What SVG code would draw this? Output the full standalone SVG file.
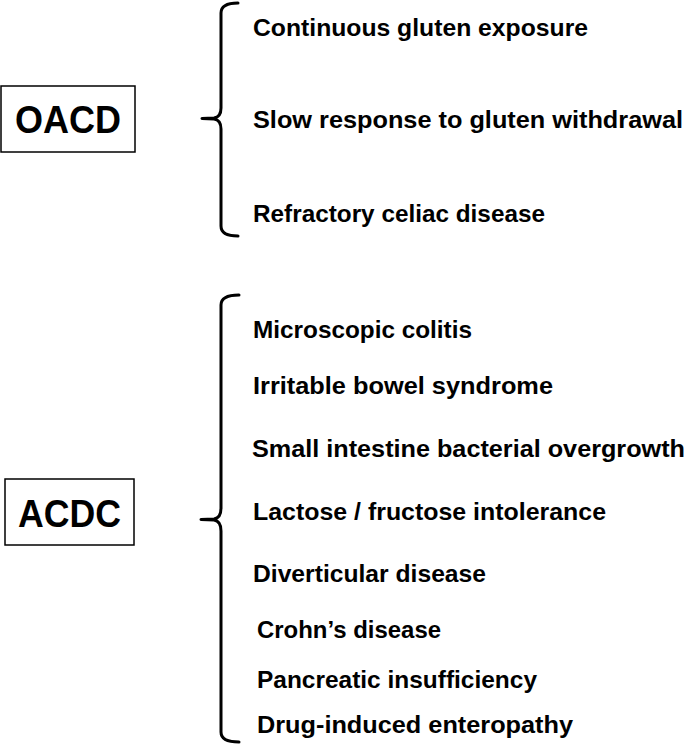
<svg xmlns="http://www.w3.org/2000/svg" width="685" height="755" viewBox="0 0 685 755">
<style>
.box{fill:#fff;stroke:#000;stroke-width:1.5}
.lbl{font-family:"Liberation Sans",Arial,sans-serif;font-weight:bold;font-size:38px;fill:#000}
.item{font-family:"Liberation Sans",Arial,sans-serif;font-weight:bold;font-size:24.5px;fill:#000}
.brace{fill:none;stroke:#000;stroke-width:3;stroke-linecap:round;stroke-linejoin:round}
</style>
<rect width="685" height="755" fill="#fff"/>
<g id="connectors">
<path class="brace" d="M238,3 Q221,3 221,13 L221,108 Q221,117 214,118 L202,118.5 L214,119 Q221,120 221,129 L221,226 Q221,236 238,236"/>
<path class="brace" d="M239,295 Q221,295 221,305 L221,508 Q221,518 214,519 L201,519.5 L214,520 Q221,521 221,531 L221,732 Q221,742 239,742"/>
</g>
<g id="oacd">
<rect class="box" x="1" y="86" width="134" height="66"/>
<text class="lbl" x="15" y="133" textLength="106" lengthAdjust="spacingAndGlyphs">OACD</text>
</g>
<g id="oacd-items">
<text class="item" x="253" y="36" textLength="335" lengthAdjust="spacingAndGlyphs">Continuous gluten exposure</text>
<text class="item" x="253" y="128" textLength="430" lengthAdjust="spacingAndGlyphs">Slow response to gluten withdrawal</text>
<text class="item" x="253" y="222" textLength="292" lengthAdjust="spacingAndGlyphs">Refractory celiac disease</text>
</g>
<g id="acdc">
<rect class="box" x="5" y="479" width="129" height="66"/>
<text class="lbl" x="18" y="527" textLength="103" lengthAdjust="spacingAndGlyphs">ACDC</text>
</g>
<g id="acdc-items">
<text class="item" x="253" y="338" textLength="219" lengthAdjust="spacingAndGlyphs">Microscopic colitis</text>
<text class="item" x="253" y="394" textLength="300" lengthAdjust="spacingAndGlyphs">Irritable bowel syndrome</text>
<text class="item" x="252" y="457" textLength="433" lengthAdjust="spacingAndGlyphs">Small intestine bacterial overgrowth</text>
<text class="item" x="253" y="520" textLength="353" lengthAdjust="spacingAndGlyphs">Lactose / fructose intolerance</text>
<text class="item" x="253" y="582" textLength="233" lengthAdjust="spacingAndGlyphs">Diverticular disease</text>
<text class="item" x="257" y="638" textLength="184" lengthAdjust="spacingAndGlyphs">Crohn’s disease</text>
<text class="item" x="257" y="688" textLength="280" lengthAdjust="spacingAndGlyphs">Pancreatic insufficiency</text>
<text class="item" x="257" y="733" textLength="316" lengthAdjust="spacingAndGlyphs">Drug-induced enteropathy</text>
</g>
</svg>
